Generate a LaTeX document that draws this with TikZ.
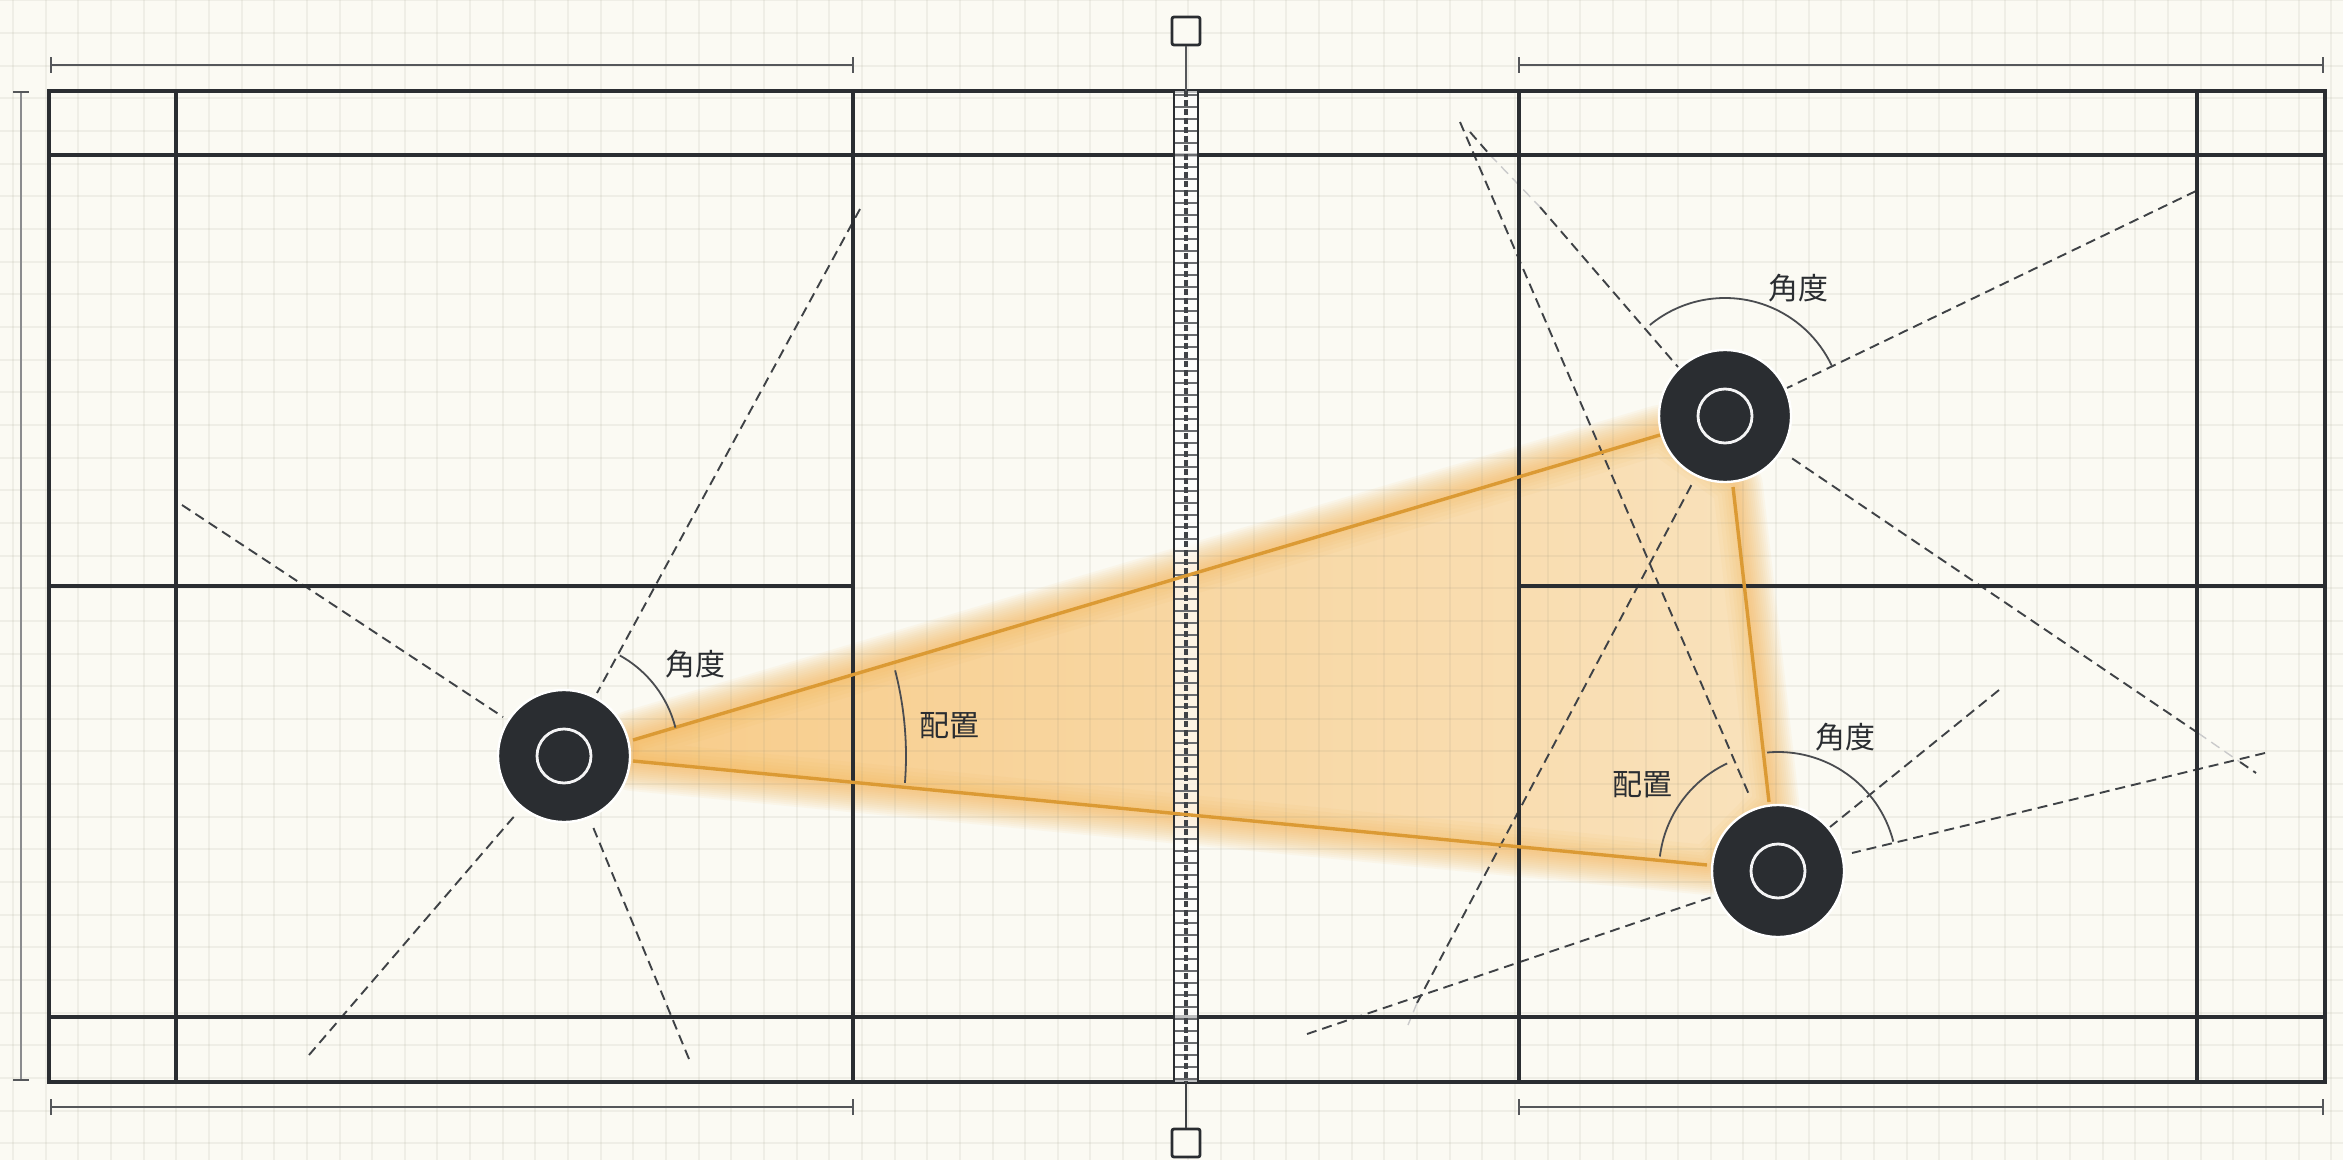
\documentclass[tikz,border=0pt]{standalone}
\usepackage{fontspec}
\newfontfamily\cjk{Noto Sans CJK JP}
\definecolor{paper}{HTML}{FBFAF3}
\definecolor{gridc}{HTML}{8F8C74}
\definecolor{ink}{HTML}{2A2D31}
\definecolor{orangeline}{HTML}{DB9A34}
\definecolor{glowc}{HTML}{F5AE45}
\tikzset{
  court/.style={draw=ink,line width=2.2pt},
  dim/.style={draw=ink!80,line width=0.8pt},
  sight/.style={draw=ink!90,line width=0.95pt,dash pattern=on 5pt off 3pt},
  faintsight/.style={draw=ink!25,line width=0.7pt,dash pattern=on 5pt off 3pt},
  arcline/.style={draw=ink!85,line width=0.9pt},
  lbl/.style={font=\cjk\fontsize{15}{15}\selectfont,text=ink,inner sep=0pt},
  playerdot/.style={circle,fill=ink,draw=white,line width=1.2pt,minimum size=66pt,inner sep=0pt},
  playerring/.style={circle,draw=white!95!ink,line width=1.4pt,minimum size=27pt,inner sep=0pt},
  post/.style={rectangle,draw=ink,fill=paper,line width=1.4pt,minimum size=14pt,inner sep=0pt,rounded corners=1pt},
  glowedge/.style={draw=glowc,line join=round,opacity=0.06},
}
\begin{document}
\begin{tikzpicture}[x=0.5pt,y=-0.5pt]
\useasboundingbox (0,0) rectangle (2343,1160);
\fill[paper] (0,0) rectangle (2343,1160);
% glow
\def\tripath{(633,740) -- (1660,435) -- (1733,487) -- (1769,802) -- (1707,865) -- (633,761) -- cycle}
\foreach \w in {30,28,26,24,22,20,18,16,14,12,10,8,6,4}{
  \draw[glowedge,line width=\w pt] \tripath;
}
\shade[left color=glowc!60!paper,middle color=glowc!40!paper,right color=glowc!32!paper,shading angle=90] \tripath;
\begin{scope}
\clip \tripath;
\foreach \w in {20,16,12,9,6,3}{
  \draw[glowedge,line width=\w pt] \tripath;
}
\end{scope}
% grid
\foreach \i in {0,...,71}{
  \draw[gridc,line width=1pt,opacity=0.10] ({13+32.65*\i},0) -- ({13+32.65*\i},1160);
}
\foreach \i in {0,...,35}{
  \draw[gridc,line width=1pt,opacity=0.10] (0,{0.5+32.65*\i}) -- (2343,{0.5+32.65*\i});
}
% coordinates of players
\coordinate (pa) at (564,756);
\coordinate (pb) at (1725,416);
\coordinate (pc) at (1778,871);
% dashed sight lines
\coordinate (a1) at (860,209); \coordinate (a2) at (597,693);
\coordinate (b1) at (182,505); \coordinate (b2) at (503,717);
\coordinate (c1) at (309,1055); \coordinate (c2) at (517,813);
\coordinate (d1) at (689,1059); \coordinate (d2) at (593,827);
\coordinate (e1) at (2196,191); \coordinate (e2) at (1787,388);
\coordinate (f1) at (1540,207); \coordinate (f2) at (1678,367);
\coordinate (f3) at (1470,132); \coordinate (f4) at (1490,155);
\coordinate (g1) at (2198,733); \coordinate (g2) at (1790,457);
\coordinate (g3) at (2240,762); \coordinate (g4) at (2256,773);
\coordinate (h1) at (1417,1003); \coordinate (h2) at (1693,482);
\coordinate (h3) at (1408,1025);
\coordinate (i1) at (1460,122); \coordinate (i2) at (1750,797);
\coordinate (j1) at (2265,753); \coordinate (j2) at (1852,853);
\coordinate (k1) at (1999,690); \coordinate (k2) at (1830,827);
\coordinate (l1) at (1307,1034); \coordinate (l2) at (1712,897);
\foreach \p in {a,b,c,d,e,f,g,h,i,j,k,l}{
  \draw[sight] (\p1) -- (\p2);
}
\draw[sight] (f3) -- (f4);
\draw[sight] (g3) -- (g4);
\draw[faintsight] (f4) -- (f1);
\draw[faintsight] (g1) -- (g3);
\draw[faintsight] (h1) -- (h3);
% court
\draw[court] (49,91) rectangle (2325,1082);
\draw[court] (49,155) -- (2325,155);
\draw[court] (49,1017) -- (2325,1017);
\draw[court] (176,91) -- (176,1082);
\draw[court] (2197,91) -- (2197,1082);
\draw[court] (853,91) -- (853,1082);
\draw[court] (1519,91) -- (1519,1082);
\draw[court] (49,586) -- (853,586);
\draw[court] (1519,586) -- (2325,586);
% net
\fill[white,opacity=0.7] (1174,91) rectangle (1198,1082);
\foreach \i in {0,...,82}{
  \draw[ink!70,line width=0.8pt] (1174,{95+12*\i}) -- (1198,{95+12*\i});
}
\draw[ink,line width=1.4pt] (1174,91) -- (1174,1082);
\draw[ink,line width=1.4pt] (1198,91) -- (1198,1082);
\draw[ink!90,line width=1.6pt,dash pattern=on 3pt off 1.5pt] (1186,91) -- (1186,1082);
\node[post] (topPost) at (1186,31) {};
\node[post] (botPost) at (1186,1143) {};
\coordinate (netTop) at (1186,91);
\coordinate (netBot) at (1186,1082);
\draw[ink!80,line width=1.2pt] (topPost) -- (netTop);
\draw[ink!90,line width=1.4pt] (botPost) -- (netBot);
% dimension lines
\coordinate (t1a) at (51,65); \coordinate (t1b) at (853,65);
\coordinate (t2a) at (1519,65); \coordinate (t2b) at (2323,65);
\coordinate (b1a) at (51,1107); \coordinate (b1b) at (853,1107);
\coordinate (b2a) at (1519,1107); \coordinate (b2b) at (2323,1107);
\foreach \u/\v in {t1a/t1b,t2a/t2b,b1a/b1b,b2a/b2b}{
  \draw[dim] (\u) -- (\v);
  \draw[dim] ([yshift=-4pt]\u) -- ([yshift=4pt]\u);
  \draw[dim] ([yshift=-4pt]\v) -- ([yshift=4pt]\v);
}
\coordinate (la) at (21,92); \coordinate (lb) at (21,1080);
\draw[draw=ink!55,line width=1.2pt] (la) -- (lb);
\draw[dim] ([xshift=-4pt]la) -- ([xshift=4pt]la);
\draw[dim] ([xshift=-4pt]lb) -- ([xshift=4pt]lb);
% orange edges
\draw[draw=orangeline,line width=1.7pt,line join=round] (633,740) -- (1660,435);
\draw[draw=orangeline,line width=1.7pt,line join=round] (633,761) -- (1707,865);
\draw[draw=orangeline,line width=1.7pt,line join=round] (1733,487) -- (1769,802);
% arcs
\draw[arcline] (pa) ++(-61:115) arc[start angle=-61,end angle=-14.3,radius=115];
\draw[arcline] (pb) ++(-129.6:118) arc[start angle=-129.6,end angle=-25,radius=118];
\draw[arcline] (pc) ++(-95.3:119) arc[start angle=-95.3,end angle=-14.3,radius=119];
\draw[arcline] (pc) ++(-115.3:119) arc[start angle=-115.3,end angle=-173,radius=119];
\draw[arcline] (pa) ++(-14.5:342) arc[start angle=-14.5,end angle=4.5,radius=342];
% players
\node[playerdot] (playerA) at (pa) {};
\node[playerring] (ringA) at (pa) {};
\node[playerdot] (playerB) at (pb) {};
\node[playerring] (ringB) at (pb) {};
\node[playerdot] (playerC) at (pc) {};
\node[playerring] (ringC) at (pc) {};
% labels
\node[lbl] (la1) at (695,664) {角度};
\node[lbl] (la2) at (949,726) {配置};
\node[lbl] (la3) at (1798,288) {角度};
\node[lbl] (la4) at (1845,737) {角度};
\node[lbl] (la5) at (1642,785) {配置};
\end{tikzpicture}
\end{document}
